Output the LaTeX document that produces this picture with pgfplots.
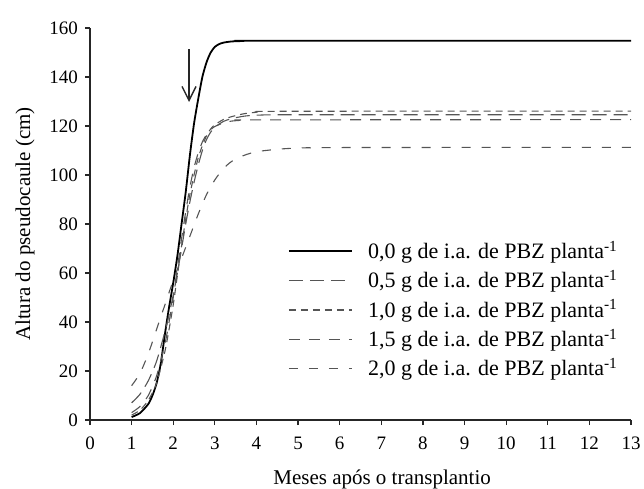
\documentclass[border=0pt]{standalone}
\usepackage{fontspec}
\setmainfont{Liberation Serif}
\usepackage{pgfplots}
\pgfplotsset{compat=1.18}
\usetikzlibrary{arrows.meta}
\definecolor{dgray}{RGB}{85,85,85}
\begin{document}
\fontsize{21}{24}\selectfont
\begin{tikzpicture}
\path[use as bounding box] (-90pt,-69pt) rectangle (554pt,420pt);
\begin{axis}[
  at={(0pt,0pt)}, anchor=south west,
  scale only axis, width=541pt, height=392pt,
  xmin=0, xmax=13, ymin=0, ymax=160,
  axis x line*=bottom, axis y line*=left,
  axis line style={line width=1.6pt, black!85},
  xtick={0,1,...,13}, ytick={0,20,...,160},
  tick align=outside, major tick length=5pt,
  tick style={line width=1.3pt, black!85},
  /pgf/number format/assume math mode=true,
  ticklabel style={font=\fontsize{19}{22}\selectfont},
  xticklabel style={yshift=-5pt},
  xlabel={Meses após o transplantio},
  ylabel={Altura do pseudocaule (cm)},
  xlabel style={at={(axis description cs:0.54,-0.152)}, anchor=center},
  ylabel style={at={(axis description cs:-0.12,0.5)}, anchor=center},
  label style={font=\fontsize{21}{24}\selectfont},
  legend style={draw=none, fill=none, at={(axis cs:4.75,74)}, anchor=north west,
    font=\fontsize{22}{24}\selectfont, row sep=4.5pt, inner sep=0pt,
    /tikz/every odd column/.append style={column sep=10.5pt}},
  legend cell align=left,
  legend image code/.code={\draw[#1] (0pt,0pt) -- (63pt,0pt); \path (66pt,0pt);},
]
\addplot[black, line width=1.8pt, smooth, tension=0.4] coordinates {
(1,1.2)(1.2,2.8)(1.4,6.5)(1.5,10)(1.6,15)(1.7,23)(1.8,35)(1.9,46)(2.0,56)(2.1,67)(2.2,80)(2.3,93)(2.4,108)(2.5,121)(2.6,131)(2.7,140)(2.8,146)(2.9,150)(3.0,152.3)(3.1,153.4)(3.2,154)(3.4,154.5)(3.7,154.7)(4,154.8)(13,154.8)};
\addlegendentry{0,0 g de i.a. de PBZ planta\textsuperscript{-1}}
\addplot[dgray, line width=1.1pt, dash pattern=on 14pt off 7pt, smooth, tension=0.4] coordinates {
(1,7)(1.2,10.5)(1.4,16)(1.6,24)(1.8,36)(1.9,43)(2.0,51)(2.1,60)(2.2,70)(2.3,80)(2.4,89)(2.5,97)(2.6,104)(2.7,110)(2.8,114.5)(2.9,117.5)(3.0,119.5)(3.2,121.8)(3.4,123)(3.7,124)(4,124.4)(5,124.6)(13,124.6)};
\addlegendentry{0,5 g de i.a. de PBZ planta\textsuperscript{-1}}
\addplot[dgray, line width=1.1pt, dash pattern=on 7pt off 5pt, smooth, tension=0.4] coordinates {
(1,2)(1.2,4)(1.4,8)(1.6,15)(1.8,28)(1.9,37)(2.0,47)(2.1,59)(2.2,71)(2.3,82)(2.4,92)(2.5,100)(2.6,107)(2.7,112)(2.8,116)(2.9,118.8)(3.0,120.5)(3.2,122.6)(3.4,123.8)(3.7,125)(4,125.6)(4.5,126)(13,126.1)};
\addlegendentry{1,0 g de i.a. de PBZ planta\textsuperscript{-1}}
\addplot[dgray, line width=1.1pt, dash pattern=on 11pt off 9pt, smooth, tension=0.4] coordinates {
(1,3)(1.2,5.5)(1.4,10)(1.6,18)(1.8,31)(1.9,40)(2.0,50)(2.1,62)(2.2,74)(2.3,85)(2.4,95)(2.5,103)(2.6,109)(2.7,113.5)(2.8,116.5)(2.9,118.5)(3.0,119.8)(3.2,121.2)(3.4,122)(3.7,122.4)(4,122.5)(13,122.6)};
\addlegendentry{1,5 g de i.a. de PBZ planta\textsuperscript{-1}}
\addplot[dgray, line width=1.1pt, dash pattern=on 9pt off 11pt, smooth, tension=0.4] coordinates {
(1,14)(1.2,19)(1.4,27)(1.6,37)(1.8,47)(2.0,57)(2.2,66)(2.4,75)(2.6,84)(2.8,92)(3.0,98)(3.2,102.5)(3.4,105.5)(3.7,108)(4,109.5)(4.5,110.5)(5,111)(6,111.2)(13,111.3)};
\addlegendentry{2,0 g de i.a. de PBZ planta\textsuperscript{-1}}
\draw[line width=1.4pt, black!85, -{Straight Barb[length=14pt,width=14pt]}] (axis cs:2.38,151.4) -- (axis cs:2.38,129.8);
\end{axis}
\end{tikzpicture}
\end{document}
